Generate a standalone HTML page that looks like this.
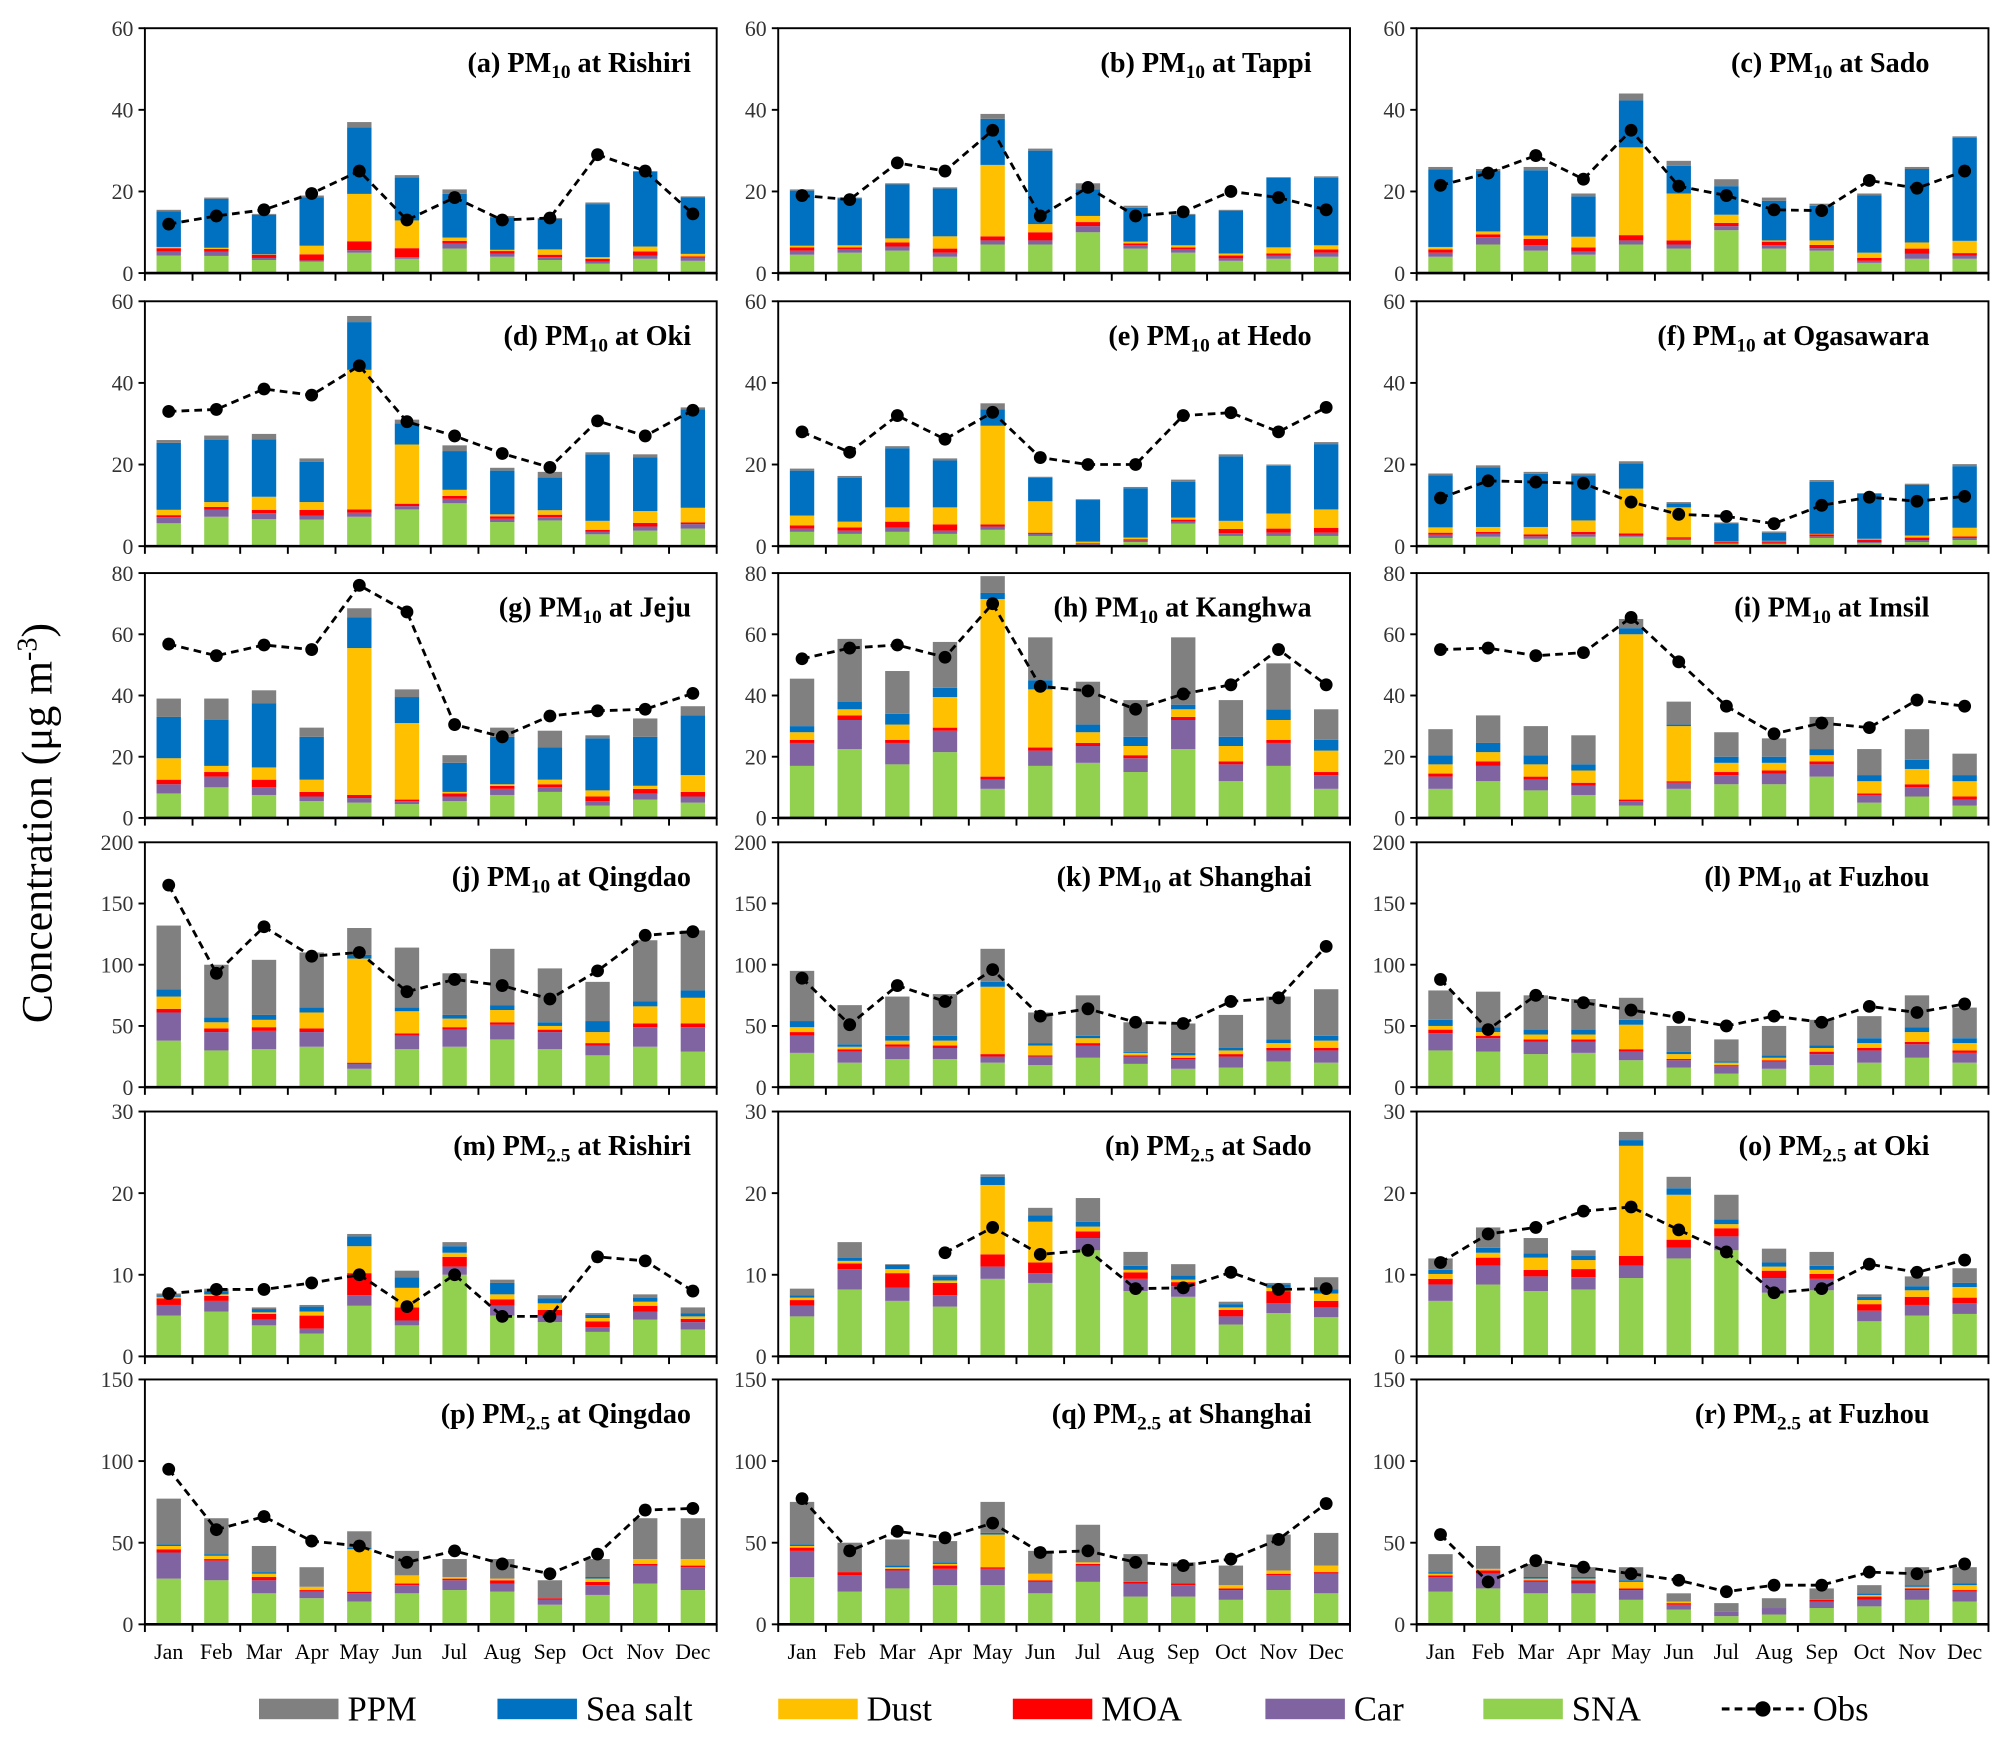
<!DOCTYPE html>
<html><head><meta charset="utf-8"><style>
html,body{margin:0;padding:0;background:#fff;}
svg{display:block;font-family:"Liberation Serif",serif;}
</style></head><body>
<svg id="chart" width="2009" height="1741" viewBox="0 0 1567 1358" xmlns="http://www.w3.org/2000/svg">
<rect width="1567" height="1358" fill="#fff"/>
<text transform="translate(40,642) rotate(-90)" text-anchor="middle" font-size="34" fill="#000">Concentration  (μg m<tspan baseline-shift="super" font-size="22">-3</tspan>)</text>
<g id="panels"></g>
<g id="legend"></g>
</svg>
<script>
const months = ["Jan","Feb","Mar","Apr","May","Jun","Jul","Aug","Sep","Oct","Nov","Dec"];
const titles = [["a","10","Rishiri"],["b","10","Tappi"],["c","10","Sado"],["d","10","Oki"],["e","10","Hedo"],["f","10","Ogasawara"],["g","10","Jeju"],["h","10","Kanghwa"],["i","10","Imsil"],["j","10","Qingdao"],["k","10","Shanghai"],["l","10","Fuzhou"],["m","2.5","Rishiri"],["n","2.5","Sado"],["o","2.5","Oki"],["p","2.5","Qingdao"],["q","2.5","Shanghai"],["r","2.5","Fuzhou"]];
const yMax = [60,60,60,60,60,60,80,80,80,200,200,200,30,30,30,150,150,150];
const yStep = [20,20,20,20,20,20,20,20,20,50,50,50,10,10,10,50,50,50];
const sna = [
[4.3,4.2,3.2,2.8,5,3.5,6,4,3.2,2.3,3.5,3],
[4.5,5,5.5,4,7,7,10,6,5,3,3.5,4],
[4,7,5.5,4.5,7,6,10.5,6,5.5,2.5,3.5,3.5],
[5.6,7.2,6.6,6.5,7.2,9,10.5,5.9,6.3,2.9,3.8,4.3],
[3.5,3,3.5,3,4,2.5,0.3,1,5.5,2.5,2.5,2.5],
[2,2.3,1.8,2.3,2.3,1.5,0.5,0.5,2,0.7,1,1.5],
[8,10,7.5,5.5,5,4.5,5.5,7.5,8.5,4,6,5],
[17,22.5,17.5,21.5,9.5,17,18,15,22.5,12,17,9.5],
[9.5,12,9,7.5,4,9.5,11,11,13.5,5,7,4],
[38,30,31,33,15,31,33,39,31,26,33,29],
[28,20,23,23,20,18,24,19,15,16,21,20],
[30,29,27,28,22,16,11,15,18,20,24,20],
[5,5.5,3.8,2.8,6.2,3.8,10,5,4.2,3,4.5,3.3],
[4.9,8.2,6.8,6.1,9.5,9,13,8,7.3,3.9,5.3,4.8],
[6.8,8.8,8,8.2,9.6,12,13,7.8,8.1,4.3,5,5.2],
[28,27,19,16,14,19,21,20,12,18,25,21],
[29,20,22,24,24,19,26,17,17,15,21,19],
[20,22,19,19,15,9,5,6,10,11,15,14]];
const car = [
[1,1,0.5,0.3,0.6,0.4,1.2,0.8,0.7,0.5,0.8,0.8],
[1,0.8,1,1,1,1,1.5,0.8,0.8,0.6,0.8,1],
[1,1.8,1.3,0.8,1,1,1,0.8,0.6,0.5,1.2,0.8],
[1.5,1.7,1.5,1,1,0.8,1.1,0.8,0.8,0.6,1,1.1],
[0.8,0.8,1,0.8,0.8,0.5,0.2,0.4,0.5,0.7,0.8,0.8],
[0.8,0.8,0.6,0.6,0.3,0.3,0.2,0.3,0.4,0.3,0.5,0.5],
[3,3.5,2.5,1.5,1.5,1,1.5,2,1.5,1.5,2,2],
[7.5,9.5,7,7,3,5,5.5,4.5,9.5,5.5,7.5,4.5],
[4,5,3.5,3,1.5,2,3,3.5,4,2.5,3,2],
[23,15,15,12,4,11,14,12,14,8,16,20],
[14,9,10,9,5,7,10,6,8,9,9,10],
[14,11,10,9,7,6,6,6,9,10,11,8],
[1.3,1.3,0.7,0.6,1.3,0.6,1,1.2,0.8,0.6,1,0.9],
[1.3,2.5,1.6,1.4,1.5,1.2,1.5,1.5,1.3,1,1.2,1.2],
[2,2.3,1.8,1.5,1.5,1.3,1.7,1.8,1.4,1.3,1.3,1.3],
[16,12,8,4,5,5,6,5,3,6,11,14],
[16,10,11,10,10,7,10,8,7,6,9,12],
[9,9,7,6,6,3,3,4,4,4,6,6]];
const moa = [
[0.8,0.7,0.8,1.5,2.2,2.2,0.7,0.6,0.6,0.7,1,0.3],
[0.8,0.5,1,1,1,2,1,0.5,0.5,0.7,0.5,0.8],
[0.8,0.7,1.6,1,1.3,1,0.8,0.9,0.8,0.7,1.3,0.6],
[0.5,0.7,0.8,1.4,0.8,0.6,0.7,0.6,0.6,0.5,0.9,0.4],
[0.8,0.8,1.5,1.5,0.5,0.3,0.2,0.3,0.5,1,1,1.2],
[0.5,0.4,0.5,0.6,0.5,0.4,0.3,0.4,0.5,0.6,0.6,0.4],
[1.5,1.5,2.5,1.5,1,0.5,1,1,1,1.5,1.5,1.5],
[1,1.5,1,1,1,1,1,1,1,1,1,1],
[1,1.5,1,1,0.5,0.5,1,1,1,0.5,1,1],
[3,3,3,3,1,2,2,2,2,2,3,3],
[3,2,2,2,2,1,2,1,1,2,2,2],
[3,2,2,2,2,1,1,1,2,2,2,2],
[0.8,0.6,0.7,1.6,2.7,1.6,1.2,0.8,0.7,0.7,0.7,0.4],
[0.7,0.7,1.8,1.5,1.5,1.3,0.8,0.8,0.5,0.8,1.5,0.8],
[0.7,1,0.8,1,1.2,1,1,0.9,0.6,0.8,1,0.7],
[2,1,2,1,1,1,1,2,1,2,1,1],
[2,2,1,2,1,1,1,1,1,1,1,1],
[1,2,1,2,1,1,0,0,1,2,1,1]];
const dust = [
[0.3,0.3,0.1,2.1,11.6,6.8,0.8,0.3,1.3,0.4,1.2,0.6],
[0.4,0.5,1,3,17.5,2,1.5,0.4,0.5,0.5,1.5,1],
[0.6,0.7,0.8,2.6,21.5,11.5,2,0.3,1.1,1.3,1.5,3],
[1.3,1.2,3.2,1.9,34.2,14.5,1.5,0.5,1.1,2.2,2.9,3.6],
[2.4,1.4,3.5,4.2,24.2,7.7,0.4,0.4,0.5,2,3.7,4.5],
[1.3,1.2,1.8,2.8,11,7.3,0.1,0.1,0.1,0.2,0.5,2.1],
[7,2,4,4,48,25,0.5,0.5,1.5,2,1,5.5],
[2.5,2,5,10,58,19,3.5,3,2.5,5,6.5,7],
[3,3,4,4,54,18,3,2.5,2,4,5,5],
[10,5,6,13,85,18,7,10,3,9,14,21],
[4,2,3,4,55,8,4,2,2,3,4,6],
[3,3,4,4,20,4,2,2,3,4,8,6],
[0.2,0.2,0.2,0.5,3.3,2.4,0.5,0.6,0.8,0.4,0.5,0.3],
[0.3,0.3,0.5,0.3,8.5,5,0.6,0.3,0.3,0.3,0.4,0.9],
[0.6,0.6,1.5,1.1,13.5,5.5,0.5,0.5,0.5,0.5,0.8,1.3],
[2,2,2,2,26,5,1,1,0,2,3,4],
[1,0,1,1,20,4,1,0,0,2,2,4],
[1,1,1,1,4,1,0,0,0,1,1,3]];
const seaSalt = [
[8.7,12,9.7,11.9,16.3,10.5,10.7,8,7.5,13,18.3,13.9],
[13.5,11.5,13.2,11.7,11.3,18,6.5,8.3,7.5,10.5,17,16.5],
[19,14.8,16,9.9,11.5,6.8,7,9.7,8.5,14,18,25.2],
[16.4,15.3,14.1,9.9,11.7,5.2,9.5,10.7,8,16.3,13.2,24.1],
[11,10.7,14.5,11.5,4,5.7,10.2,12.1,8.8,15.8,11.7,16],
[12.7,14.6,13,11,6.2,1,4.5,2,12.8,11,12.4,15.1],
[13.5,15,21,14,10,8.5,9.5,15.5,10.5,17,16,19.5],
[2,2.5,3.5,3,2,3,2.5,3,1.5,3,3.5,3.5],
[3,3,3,2,2,0.5,2,2,2,2,3,2],
[6,4,4,4,3,3,3,4,3,9,4,6],
[5,2,4,4,4,2,2,1,2,2,3,4],
[5,4,4,4,4,2,1,2,2,4,4,4],
[0.2,0.4,0.4,0.6,1.2,1.3,0.8,1.4,0.6,0.4,0.5,0.4],
[0.3,0.4,0.5,0.5,1,0.8,0.6,0.5,0.5,0.4,0.4,0.5],
[0.5,0.6,0.5,0.5,0.7,0.8,0.6,0.5,0.5,0.4,0.5,0.5],
[1,1,1,0,1,0,0,0,0,1,0,0],
[1,0,1,1,1,0,0,0,0,0,0,0],
[1,0,1,1,1,0,0,0,0,1,1,1]];
const ppm = [
[0.4,0.3,0.2,0.4,1.3,0.6,1.1,0.3,0.2,0.4,0.2,0.2],
[0.3,0.2,0.3,0.3,1.2,0.5,1.5,0.5,0.2,0.2,0.2,0.4],
[0.6,0.5,0.8,0.7,1.7,1.2,1.7,0.8,0.5,0.5,0.5,0.4],
[0.7,1,1.3,0.8,1.5,0.9,1.4,0.7,1.4,0.5,0.7,0.5],
[0.5,0.5,0.5,0.5,1.5,0.3,0.2,0.3,0.5,0.5,0.3,0.5],
[0.5,0.5,0.5,0.5,0.5,0.3,0.2,0.3,0.4,0.2,0.3,0.5],
[6,7,4.2,3,3,2.5,2.5,3,5.5,1,6,3],
[15.5,20.5,14,15,5.5,14,14,12,22,12,15,10],
[8.5,9,9.5,9.5,3,7.5,8,6,10.5,8.5,10,7],
[52,43,45,45,22,49,34,46,44,32,50,49],
[41,32,32,34,27,25,33,24,24,27,35,38],
[24,29,28,25,18,21,18,24,21,18,26,25],
[0.2,0.3,0.2,0.2,0.3,0.8,0.5,0.4,0.4,0.2,0.4,0.7],
[0.8,1.9,0.1,0.2,0.3,0.9,2.9,1.7,1.4,0.3,0.2,1.5],
[1.4,2.5,1.9,0.7,1,1.4,3,1.7,1.7,0.3,1.2,1.8],
[28,22,16,12,10,15,11,12,11,11,25,25],
[26,18,16,13,19,14,23,17,13,12,22,20],
[11,14,8,6,8,5,5,6,7,5,11,10]];
const obs = [
[12,14,15.5,19.5,25,13,18.5,13,13.5,29,25,14.5],
[19,18,27,25,35,14,21,14,15,20,18.5,15.5],
[21.5,24.5,28.8,23,35,21.3,19,15.5,15.3,22.7,20.8,25],
[33,33.5,38.5,37,44.2,30.5,27,22.7,19.3,30.7,27,33.3],
[28,23,32,26.2,32.8,21.7,20,20,32,32.7,28,34],
[11.8,16,15.7,15.4,10.8,7.8,7.3,5.5,10,12,11,12.2],
[56.8,53,56.5,55,76,67.3,30.5,26.5,33.3,35,35.5,40.7],
[52,55.5,56.5,52.5,70,43,41.5,35.5,40.5,43.5,55,43.5],
[55,55.5,53,54,65.5,51,36.5,27.5,31,29.5,38.5,36.5],
[165,93,131,107,110,78,88,83,72,95,124,127],
[89,51,83,70,96,58,64,53,52,70,73,115],
[88,47,75,69,63,57,50,58,53,66,61,68],
[7.7,8.2,8.2,9,10,6.1,10,4.9,4.9,12.2,11.7,8],
[null,null,null,12.7,15.8,12.5,13,8.3,8.4,10.3,8.2,8.3],
[11.5,15,15.8,17.8,18.3,15.5,12.8,7.8,8.3,11.3,10.3,11.8],
[95,58,66,51,48,38,45,37,31,43,70,71],
[77,45,57,53,62,44,45,38,36,40,52,74],
[55,26,39,35,31,27,20,24,24,32,31,37]];
const seriesNames = ["SNA","Car","MOA","Dust","Sea salt","PPM"];
const seriesColors = ["#92D050","#8064A2","#FF0000","#FFC000","#0070C0","#808080"];

const NS = "http://www.w3.org/2000/svg";
function mk(tag, attrs, parent){const e=document.createElementNS(NS,tag);for(const k in attrs)e.setAttribute(k,attrs[k]);parent.appendChild(e);return e;}
const colL=[113,607,1105], rowT=[22,235,447,657,867,1076], PW=446, PH=191;
const titleOff=[20,30,46];
const root=document.getElementById("panels");
for(let p=0;p<18;p++){
  const L=colL[p%3], T=rowT[Math.floor(p/3)], B=T+PH, R=L+PW;
  const g=mk("g",{},root);
  
  
  const y=v=>B-v/yMax[p]*PH;
  const xc=i=>L+(i+0.5)*PW/12;
  for(let v=0;v<=yMax[p];v+=yStep[p]){
    mk("line",{x1:L-5,x2:L,y1:y(v),y2:y(v),stroke:"#000","stroke-width":1.5},g);
    const t=mk("text",{x:L-9,y:y(v)+6,"text-anchor":"end","font-size":17,fill:"#333"},g);
    
    
    t.textContent=v;
  }
  for(let i=0;i<=12;i++){mk("line",{x1:L+i*PW/12,x2:L+i*PW/12,y1:B,y2:B+6,stroke:"#000","stroke-width":1.5},g);}
  const comps=[sna[p],car[p],moa[p],dust[p],seaSalt[p],ppm[p]];
  for(let i=0;i<12;i++){
    let acc=0;
    for(let s=0;s<6;s++){
      const v=comps[s][i]; if(!v) continue;
      const r=mk("rect",{x:xc(i)-9.5,width:19,y:y(acc+v),height:y(acc)-y(acc+v),fill:seriesColors[s]},g);
      
      
      acc+=v;
    }
  }
  let d="";
  obs[p].forEach((v,i)=>{if(v==null)return; d+=(d?"L":"M")+xc(i)+","+y(v);});
  const ln=mk("path",{d:d,fill:"none",stroke:"#000","stroke-width":2.2,"stroke-dasharray":"6,4"},g);
  
  
  obs[p].forEach((v,i)=>{if(v==null)return;
    const c=mk("circle",{cx:xc(i),cy:y(v),r:5,fill:"#000"},g);
    
    
  });
  mk("rect",{x:L,y:T,width:PW,height:PH,fill:"none",stroke:"#000","stroke-width":1.5},g);
  mk("line",{x1:L,x2:R,y1:B,y2:B,stroke:"#000","stroke-width":2},g);
  const tt=mk("text",{x:R-titleOff[p%3],y:T+34,"text-anchor":"end","font-size":22,"font-weight":"bold",fill:"#000"},g);
  
  
  tt.innerHTML="("+titles[p][0]+") PM<tspan font-size='15' dy='5'>"+titles[p][1]+"</tspan><tspan dy='-5'> at "+titles[p][2]+"</tspan>";
  if(p>=15){
    for(let i=0;i<12;i++){
      const m=mk("text",{x:xc(i),y:1294,"text-anchor":"middle","font-size":17,fill:"#000"},g);
      
      
      m.textContent=months[i];
    }
  }
}
const lg=document.getElementById("legend");
const legItems=[["PPM","#808080",202],["Sea salt","#0070C0",388],["Dust","#FFC000",607],["MOA","#FF0000",790],["Car","#8064A2",987],["SNA","#92D050",1157]];
legItems.forEach(it=>{
  const r=mk("rect",{x:it[2],y:1325,width:62,height:16,fill:it[1]},lg);
  
  
  const t=mk("text",{x:it[2]+69,y:1342,"font-size":27,fill:"#000"},lg);
  
  
  t.textContent=it[0];
});
const ol=mk("line",{x1:1343,x2:1407,y1:1333,y2:1333,stroke:"#000","stroke-width":2.5,"stroke-dasharray":"6,4"},lg);


mk("circle",{cx:1375,cy:1333,r:6,fill:"#000"},lg);
const ot=mk("text",{x:1414,y:1342,"font-size":27,fill:"#000"},lg);


ot.textContent="Obs";
</script>
</body></html>
